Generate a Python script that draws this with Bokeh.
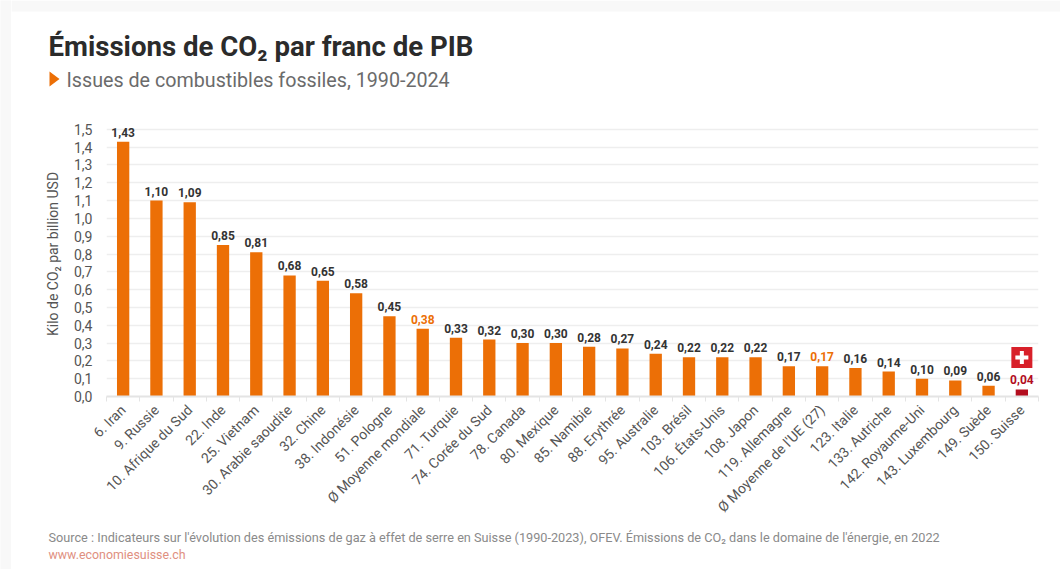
from math import pi
from bokeh.embed import file_html
from bokeh.resources import INLINE
from bokeh.plotting import figure
from bokeh.layouts import column, row
from bokeh.models import (ColumnDataSource, Range1d, LinearAxis, FixedTicker)
from bokeh.core.properties import value

title_text = "Émissions de CO₂ par franc de PIB"
subtitle_text = "Issues de combustibles fossiles, 1990-2024"
source_text = ("Source : Indicateurs sur l'évolution des émissions de gaz à effet de serre en Suisse (1990-2023), OFEV. "
               "Émissions de CO₂ dans le domaine de l'énergie, en 2022")
link_text = "www.economiesuisse.ch"
categories = ["6. Iran", "9. Russie", "10. Afrique du Sud", "22. Inde", "25. Vietnam", "30. Arabie saoudite",
              "32. Chine", "38. Indonésie", "51. Pologne", "Ø Moyenne mondiale", "71. Turquie", "74. Corée du Sud",
              "78. Canada", "80. Mexique", "85. Namibie", "88. Erythrée", "95. Australie", "103. Brésil",
              "106. États-Unis", "108. Japon", "119. Allemagne", "Ø Moyenne de l'UE (27)", "123. Italie",
              "133. Autriche", "142. Royaume-Uni", "143. Luxembourg", "149. Suède", "150. Suisse"]
values = [1.43, 1.10, 1.09, 0.85, 0.81, 0.68, 0.65, 0.58, 0.45, 0.38, 0.33, 0.32, 0.30, 0.30, 0.28, 0.27, 0.24,
          0.22, 0.22, 0.22, 0.17, 0.17, 0.16, 0.14, 0.10, 0.09, 0.06, 0.04]
y_ticks = [i / 10 for i in range(16)]

ORANGE = "#ec6f06"
DARK = "#333333"
RED = "#b30d1e"
STRIP = "#f8f8f8"
FONT = "Roboto"

n = len(categories)
centres = [i + 0.5 for i in range(n)]
bar_colors = [RED if c == "150. Suisse" else ORANGE for c in categories]
lab_colors = [RED if c == "150. Suisse" else ORANGE if c.startswith("Ø") else DARK for c in categories]
lab_text = [f"{v:.2f}".replace(".", ",") for v in values]
src = ColumnDataSource(dict(x=centres, val=values, bc=bar_colors, lc=lab_colors, txt=lab_text))

W, H = 1060, 569
STRIP_W, HEAD_H, FOOT_H = 11, 100, 44
MAIN_H = H - HEAD_H - FOOT_H
FL, FB, FT = 106, 396, 111   # frame left, bottom, top in page pixels


def blank(width, height, x0, x1, y0, y1, bg="white"):
    f = figure(width=width, height=height, output_backend="svg", toolbar_location=None,
               x_range=Range1d(x0, x1), y_range=Range1d(y1, y0), x_axis_location=None, y_axis_location=None,
               min_border=0, background_fill_color=bg, border_fill_color=bg, outline_line_color=None,
               frame_align=False)
    f.grid.visible = False
    return f


def put(f, text, x, y, size, color, style="normal"):
    f.text(x=[x], y=[y], text=[text], text_font=value(FONT), text_font_size=size, text_color=color,
           text_font_style=style, text_baseline="alphabetic", text_align="left")


# left strip of the page
strip = blank(STRIP_W, H, 0, STRIP_W, 0, H, bg=STRIP)

# heading
head = blank(W - STRIP_W, HEAD_H, STRIP_W, W, 0, HEAD_H)
head.quad(left=[STRIP_W], right=[W], top=[0], bottom=[11], fill_color=STRIP, line_color=None)
put(head, title_text, 48, 46, "27.6px", "#2b2b2b", "bold")
head.patch(x=[49, 59, 49], y=[71, 78.5, 86], fill_color=ORANGE, line_color=None)
put(head, subtitle_text, 66, 79.5, "19.7px", "#6b6b6b")

# footer
foot = blank(W - STRIP_W, FOOT_H, STRIP_W, W, H - FOOT_H, H)
put(foot, source_text, 48, 537, "12.7px", "#8a8a8a")
put(foot, link_text, 48, 554, "12.4px", "#e0907f")

# chart
p = figure(width=W - STRIP_W, height=MAIN_H, output_backend="svg", toolbar_location=None,
           x_range=Range1d(0, n), y_range=Range1d(0, 1.6), x_axis_location=None, y_axis_location=None,
           min_border_left=FL - STRIP_W, min_border_right=22, min_border_top=FT - HEAD_H,
           min_border_bottom=HEAD_H + MAIN_H - FB, frame_align=False,
           background_fill_color="white", border_fill_color="white", outline_line_color=None)

# tick marks fall between categories
tick_axis = LinearAxis(ticker=FixedTicker(ticks=list(range(n + 1))),
                       major_label_text_color=None, major_label_text_font_size="0px", major_label_standoff=0,
                       major_tick_line_color="#e4e4e4", major_tick_line_width=1, major_tick_in=0, major_tick_out=5,
                       minor_tick_line_color=None, axis_line_color="#e4e4e4", axis_line_width=2)
cat_axis = LinearAxis(ticker=FixedTicker(ticks=centres),
                      major_label_overrides=dict(zip(centres, categories)),
                      major_label_orientation=pi / 4,
                      major_label_text_font=FONT, major_label_text_font_size="14px",
                      major_label_text_color="#555555", major_label_standoff=0,
                      major_tick_line_color=None, minor_tick_line_color=None, axis_line_color=None)
p.below = [tick_axis, cat_axis]

yax = LinearAxis(ticker=FixedTicker(ticks=y_ticks),
                 major_label_overrides={t: f"{t:.1f}".replace(".", ",") for t in y_ticks},
                 major_label_text_font=FONT, major_label_text_font_size="14px", major_label_text_color="#555555",
                 major_label_standoff=8, major_tick_line_color=None, minor_tick_line_color=None, axis_line_color=None,
                 axis_label="Kilo de CO₂ par billion USD", axis_label_text_font=FONT,
                 axis_label_text_font_size="14px", axis_label_text_font_style="normal",
                 axis_label_text_color="#555555", axis_label_standoff=10)
p.left = [yax]
p.ygrid.ticker = FixedTicker(ticks=y_ticks)
p.ygrid.grid_line_color = "#eeeeee"
p.ygrid.grid_line_width = 1.5
p.xgrid.grid_line_color = None

p.vbar(x="x", top="val", width=0.37, fill_color="bc", line_color=None, source=src)
p.text(x="x", y="val", text="txt", text_color="lc", text_font=value(FONT), text_font_style="bold",
       text_font_size="12px", text_align="center", text_baseline="bottom", y_offset=-5, source=src)

# Swiss flag above the last bar
flag_x = [centres[categories.index("150. Suisse")]]
p.rect(x=flag_x, y=[0.219], width=21, height=21, width_units="screen", height_units="screen",
       fill_color="#d8202a", line_color=None)
p.rect(x=flag_x, y=[0.219], width=13, height=4, width_units="screen", height_units="screen",
       fill_color="white", line_color=None)
p.rect(x=flag_x, y=[0.219], width=4, height=13, width_units="screen", height_units="screen",
       fill_color="white", line_color=None)

layout = row(strip, column(head, p, foot, spacing=0), spacing=0)
open("out.html", "w").write(file_html(layout, INLINE))
